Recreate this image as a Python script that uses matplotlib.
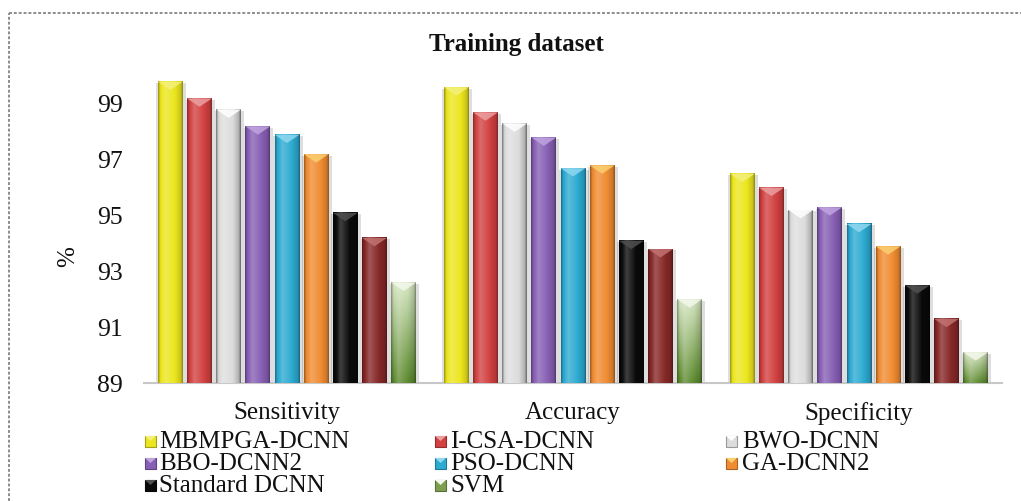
import numpy as np
import matplotlib
matplotlib.use("Agg")
import matplotlib.pyplot as plt
from matplotlib.patches import Rectangle, Polygon
from matplotlib.lines import Line2D
from matplotlib.colors import to_rgb

plt.rcParams['font.family'] = ['Liberation Serif', 'DejaVu Serif']

metrics = ["Sensitivity", "Accuracy", "Specificity"]
# the 8th series (dark red) has no entry in the legend
methods = ["MBMPGA-DCNN", "I-CSA-DCNN", "BWO-DCNN", "BBO-DCNN2", "PSO-DCNN",
           "GA-DCNN2", "Standard DCNN", "", "SVM"]
sensitivity = [99.8, 99.2, 98.8, 98.2, 97.9, 97.2, 95.1, 94.2, 92.6]
accuracy = [99.6, 98.7, 98.3, 97.8, 96.7, 96.8, 94.1, 93.8, 92.0]
specificity = [96.5, 96.0, 95.2, 95.3, 94.7, 93.9, 92.5, 91.3, 90.1]

bar_colors = ['#ECE61E', '#D24141', '#DCDCDC', '#875FB4', '#2DAAD2',
              '#F08C32', '#0A0A0A', '#872828', '#7DA050']
cap_colors = ['#F4F07A', '#EBA0A0', '#FFFFFF', '#C0A4E0', '#8FD8F0',
              '#FAD070', '#505050', '#C27272', '#F4F8EC']

W, H = 1021, 501
YMIN, YMAX = 89, 100.2


def tint(c, p):
    c = np.array(to_rgb(c))
    if p > 0:
        return c + (1 - c) * p
    return c * (1 + p)


# brightness across the width of a bar: dark rims, highlight left of centre
t = np.linspace(0, 1, 48)
profile = np.interp(t, [0, 0.08, 0.3, 0.6, 0.92, 1],
                    [-0.35, -0.05, 0.22, 0.05, -0.15, -0.4])


def shade(ax, patch, j):
    x0, w, h = patch.get_x(), patch.get_width(), patch.get_height()
    if j == 8:
        # green bar fades from pale at the top to olive at the bottom
        tops = np.linspace(0, 1, 40)
        top_c, bot_c = np.array(to_rgb('#D6E6C2')), np.array(to_rgb('#5C8A2E'))
        img = np.array([[tint(top_c * (1 - s) + bot_c * s, p) for p in profile]
                        for s in tops])
    elif j == 2:
        img = np.array([[tint(bar_colors[j], p * 1.3) for p in profile]])
    else:
        img = np.array([[tint(bar_colors[j], p) for p in profile]])
    img = np.clip(img, 0, 1)
    ax.imshow(img, extent=[x0, x0 + w, YMIN, h], aspect='auto',
              interpolation='bilinear', zorder=3)
    # soft shadow around the bar
    ax.add_patch(Rectangle((x0 - 0.005, YMIN), w + 0.016, h - YMIN - 0.05,
                           facecolor='#000000', alpha=0.13, lw=0, zorder=1))
    # bevel on top
    ax.add_patch(Polygon([(x0, h), (x0 + w, h), (x0 + w / 2, h - 0.3)],
                         closed=True, facecolor=cap_colors[j], alpha=0.85,
                         lw=0, zorder=4))


fig = plt.figure(figsize=(W / 100, H / 100), dpi=100)
ax = fig.add_axes([144 / W, 1 - 383 / H, 858 / W, (YMAX - YMIN) * 27.9 / H])

x = np.arange(len(metrics))
n = len(methods)
slot = 0.102
bw = 0.087
for j in range(n):
    vals = [sensitivity[j], accuracy[j], specificity[j]]
    pos = x + (j - (n - 1) / 2) * slot
    bars = ax.bar(pos, vals, width=bw, color=bar_colors[j], zorder=2)
    for b in bars:
        shade(ax, b, j)

ax.set_xlim(-0.5, 2.5)
ax.set_ylim(YMIN, YMAX)
ax.set_yticks(np.arange(89, 100, 2))
ax.set_xticks(x)
ax.set_xticklabels(metrics)
for s in ['top', 'right', 'left']:
    ax.spines[s].set_visible(False)
ax.spines['bottom'].set_color('#C8C8C8')
ax.spines['bottom'].set_linewidth(1.5)
ax.tick_params(axis='y', length=0, labelsize=18.5, pad=15, colors='#111111')
ax.tick_params(axis='x', length=0, labelsize=18, pad=14, colors='#111111')

fig.text(516 / W, 1 - 45 / H, 'Training dataset', fontsize=18, fontweight='bold',
         ha='center', va='center', color='#111111')
fig.text(68 / W, 1 - 257 / H, '%', fontsize=18, rotation=90,
         ha='center', va='center', color='#111111')

# legend, three columns laid out by hand
row_y = [442, 464, 486]
mark_x = [145, 435, 726]
text_x = [159, 450, 742]
k = 0
for j, name in enumerate(methods):
    if not name:
        continue
    r, c = divmod(k, 3)
    k += 1
    fig.add_artist(Rectangle((mark_x[c] / W, 1 - (row_y[r] + 5) / H), 11 / W, 11 / H,
                             transform=fig.transFigure, facecolor=bar_colors[j],
                             edgecolor=tint(bar_colors[j], -0.3), lw=0.8))
    fig.add_artist(Polygon([(mark_x[c] / W, 1 - (row_y[r] - 6) / H),
                            ((mark_x[c] + 11) / W, 1 - (row_y[r] - 6) / H),
                            ((mark_x[c] + 5.5) / W, 1 - (row_y[r] - 1) / H)],
                           transform=fig.transFigure, facecolor=cap_colors[j], lw=0))
    fig.text(text_x[c] / W, 1 - row_y[r] / H, name, fontsize=18,
             ha='left', va='center', color='#111111')

# dashed frame round the figure
frame = dict(transform=fig.transFigure, color='#8C8C8C', lw=1.4, ls=(0, (1.5, 1.0)))
fig.add_artist(Line2D([9 / W, 1], [1 - 13 / H, 1 - 13 / H], **frame))
fig.add_artist(Line2D([9 / W, 9 / W], [0, 1 - 13 / H], **frame))

fig.savefig('out.png', dpi=100)
